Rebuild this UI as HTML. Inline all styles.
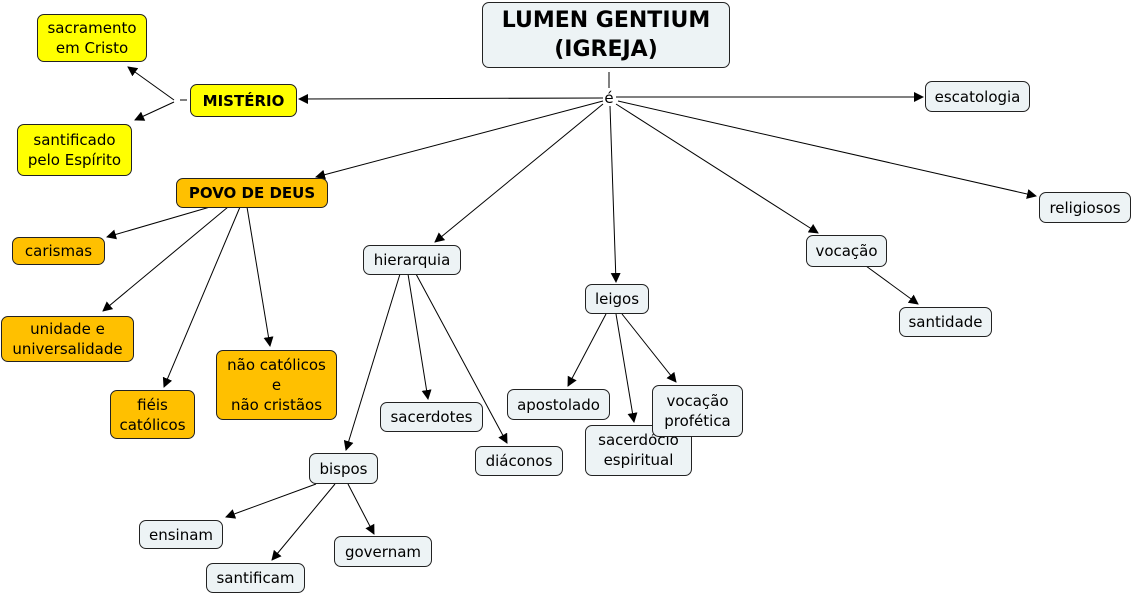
<!DOCTYPE html>
<html><head><meta charset="utf-8"><style>
body{margin:0;width:1133px;height:594px;background:#fff;position:relative;overflow:hidden;font-family:"DejaVu Sans","Liberation Sans",sans-serif;}
.n{position:absolute;box-sizing:border-box;border:1px solid #222;border-radius:7px;background:#edf3f5;display:flex;align-items:center;justify-content:center;text-align:center;font-size:15px;line-height:20px;color:#000;}
.y{background:#ffff00}.o{background:#ffc000}.b{font-weight:bold}
svg{position:absolute;left:0;top:0}
</style></head><body>
<svg width="1133" height="594">
<defs><marker id="a" markerWidth="10" markerHeight="10" refX="9" refY="5" orient="auto" markerUnits="userSpaceOnUse"><path d="M0,0 L10,5 L0,10 z" fill="#000"/></marker></defs>
<g stroke="#000" stroke-width="1" fill="none">
<line x1="609" y1="72" x2="609" y2="88"/>
<line x1="603" y1="98" x2="299" y2="99" marker-end="url(#a)"/>
<line x1="616" y1="97" x2="923" y2="97" marker-end="url(#a)"/>
<line x1="603" y1="101" x2="316" y2="177" marker-end="url(#a)"/>
<line x1="603" y1="104" x2="435" y2="242" marker-end="url(#a)"/>
<line x1="610" y1="106" x2="616" y2="282" marker-end="url(#a)"/>
<line x1="616" y1="104" x2="818" y2="233" marker-end="url(#a)"/>
<line x1="618" y1="101" x2="1036" y2="196" marker-end="url(#a)"/>
<line x1="180" y1="100" x2="187" y2="100"/>
<line x1="174" y1="100" x2="128" y2="67" marker-end="url(#a)"/>
<line x1="174" y1="102" x2="135" y2="120" marker-end="url(#a)"/>
<line x1="210" y1="207" x2="107" y2="237" marker-end="url(#a)"/>
<line x1="228" y1="207" x2="103" y2="311" marker-end="url(#a)"/>
<line x1="240" y1="207" x2="164" y2="387" marker-end="url(#a)"/>
<line x1="247" y1="207" x2="270" y2="346" marker-end="url(#a)"/>
<line x1="400" y1="274" x2="346" y2="450" marker-end="url(#a)"/>
<line x1="408" y1="274" x2="428" y2="399" marker-end="url(#a)"/>
<line x1="416" y1="274" x2="507" y2="443" marker-end="url(#a)"/>
<line x1="316" y1="484" x2="226" y2="517" marker-end="url(#a)"/>
<line x1="335" y1="484" x2="272" y2="560" marker-end="url(#a)"/>
<line x1="348" y1="484" x2="374" y2="534" marker-end="url(#a)"/>
<line x1="606" y1="314" x2="568" y2="386" marker-end="url(#a)"/>
<line x1="616" y1="314" x2="634" y2="422" marker-end="url(#a)"/>
<line x1="622" y1="314" x2="676" y2="382" marker-end="url(#a)"/>
<line x1="866" y1="266" x2="918" y2="304" marker-end="url(#a)"/>
</g>
<text x="609" y="103" font-family="DejaVu Sans,sans-serif" font-size="15" text-anchor="middle">é</text>
</svg>
<div class="n b" style="left:482px;top:2px;width:248px;height:66px;font-size:22px;line-height:29px">LUMEN GENTIUM<br>(IGREJA)</div>
<div class="n y b" style="left:190px;top:84px;width:107px;height:33px">MISTÉRIO</div>
<div class="n y" style="left:37px;top:14px;width:110px;height:48px">sacramento<br>em Cristo</div>
<div class="n y" style="left:17px;top:124px;width:115px;height:52px">santificado<br>pelo Espírito</div>
<div class="n" style="left:925px;top:81px;width:105px;height:31px">escatologia</div>
<div class="n o b" style="left:176px;top:178px;width:152px;height:30px">POVO DE DEUS</div>
<div class="n o" style="left:12px;top:237px;width:93px;height:28px">carismas</div>
<div class="n o" style="left:1px;top:316px;width:133px;height:46px">unidade e<br>universalidade</div>
<div class="n o" style="left:110px;top:390px;width:85px;height:49px">fiéis<br>católicos</div>
<div class="n o" style="left:216px;top:350px;width:121px;height:70px">não católicos<br>e<br>não cristãos</div>
<div class="n" style="left:363px;top:245px;width:98px;height:30px">hierarquia</div>
<div class="n" style="left:380px;top:402px;width:103px;height:30px">sacerdotes</div>
<div class="n" style="left:475px;top:446px;width:88px;height:30px">diáconos</div>
<div class="n" style="left:309px;top:453px;width:69px;height:31px">bispos</div>
<div class="n" style="left:139px;top:520px;width:84px;height:29px">ensinam</div>
<div class="n" style="left:206px;top:563px;width:99px;height:30px">santificam</div>
<div class="n" style="left:334px;top:536px;width:98px;height:31px">governam</div>
<div class="n" style="left:585px;top:284px;width:64px;height:30px">leigos</div>
<div class="n" style="left:507px;top:389px;width:103px;height:31px">apostolado</div>
<div class="n" style="left:585px;top:425px;width:107px;height:51px;align-items:flex-start;padding-top:4px">sacerdócio<br>espiritual</div>
<div class="n" style="left:652px;top:385px;width:91px;height:52px">vocação<br>profética</div>
<div class="n" style="left:806px;top:235px;width:81px;height:32px">vocação</div>
<div class="n" style="left:899px;top:307px;width:93px;height:30px">santidade</div>
<div class="n" style="left:1039px;top:192px;width:92px;height:31px">religiosos</div>
</body></html>
